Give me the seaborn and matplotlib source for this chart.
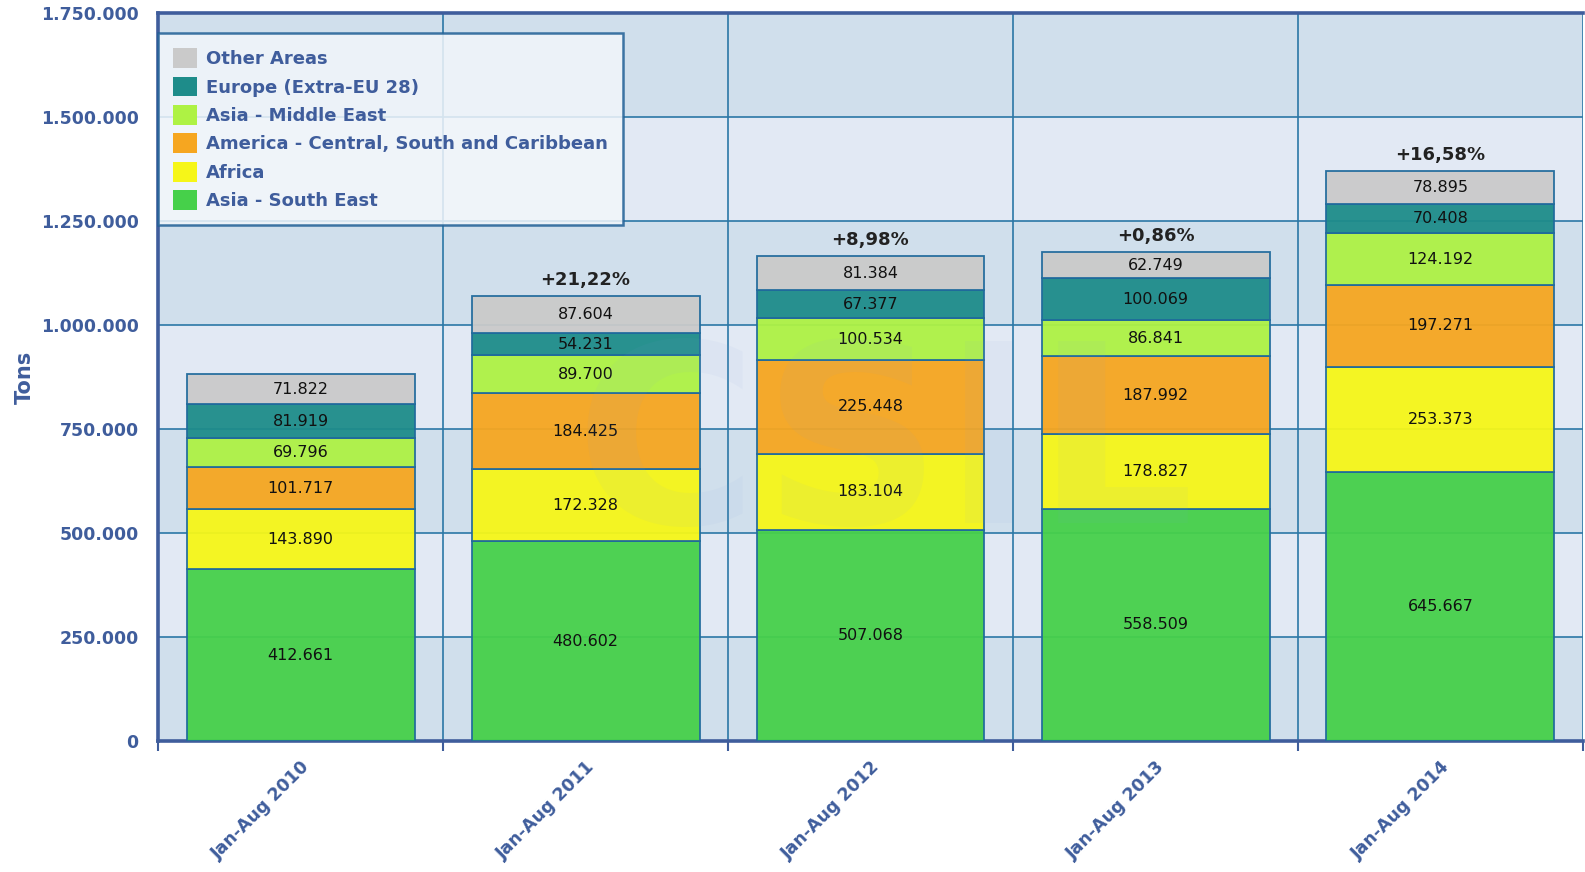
import matplotlib
matplotlib.use("Agg")
import matplotlib.pyplot as plt
import seaborn as sns
import pandas as pd
import numpy as np
from matplotlib.ticker import FixedLocator, FuncFormatter

periods = ["Jan-Aug 2010", "Jan-Aug 2011", "Jan-Aug 2012", "Jan-Aug 2013", "Jan-Aug 2014"]

asia_south_east = [412661, 480602, 507068, 558509, 645667]
africa = [143890, 172328, 183104, 178827, 253373]
america = [101717, 184425, 225448, 187992, 197271]
asia_middle_east = [69796, 89700, 100534, 86841, 124192]
europe_extra = [81919, 54231, 67377, 100069, 70408]
other_areas = [71822, 87604, 81384, 62749, 78895]

growth = ["", "+21,22%", "+8,98%", "+0,86%", "+16,58%"]

series_names = ["Asia - South East", "Africa", "America - Central, South and Caribbean",
                "Asia - Middle East", "Europe (Extra-EU 28)", "Other Areas"]
series_values = [asia_south_east, africa, america, asia_middle_east, europe_extra, other_areas]
series_colors = ["#46d04a", "#f6f618", "#f6a620", "#aef244", "#1e8c8a", "#cacaca"]

axis_blue = "#3f5d9c"
grid_blue = "#2b77a6"

sns.set_style("white")
plt.rcParams['font.family'] = ['DejaVu Sans']

fig = plt.figure(figsize=(15.85, 8.72), dpi=100)
ax = fig.add_axes([158 / 1585, 1 - 741 / 872, 1425 / 1585, 728 / 872])

# alternating background bands
ax.set_facecolor("#e2e9f4")
for lo in range(0, 1750000, 500000):
    ax.axhspan(lo, lo + 250000, color="#d0dfec", zorder=0, lw=0)

bottoms = np.zeros(len(periods))
for name, vals, col in zip(series_names, series_values, series_colors):
    df = pd.DataFrame({"period": periods, "tons": vals})
    sns.barplot(data=df, x="period", y="tons", bottom=bottoms, color=col, saturation=1,
                errorbar=None, width=0.8, edgecolor="#1f6a9c", linewidth=1.3,
                alpha=0.95, zorder=3, label=name, ax=ax)
    for i, v in enumerate(vals):
        ax.text(i, bottoms[i] + v / 2, f"{v:,}".replace(",", "."), ha="center", va="center",
                fontsize=11.5, color="#111111", zorder=5)
    bottoms = bottoms + np.array(vals)

for i, g in enumerate(growth):
    if g:
        ax.text(i, bottoms[i] + 18000, g, ha="center", va="bottom", fontsize=13,
                fontweight="bold", color="#222222", zorder=5)

# faint watermark
ax.text(2.05, 690000, "CSIL", ha="center", va="center", fontsize=180, fontweight="bold",
        color="#7f9fe0", alpha=0.06, zorder=6)

ax.set_xlim(-0.5, 4.5)
ax.set_ylim(0, 1750000)

ax.yaxis.set_major_locator(FixedLocator(np.arange(0, 1750001, 250000)))
ax.yaxis.set_major_formatter(FuncFormatter(lambda v, p: f"{int(v):,}".replace(",", ".")))
ax.xaxis.set_minor_locator(FixedLocator(np.arange(-0.5, 4.6, 1)))

ax.grid(True, axis="y", which="major", color=grid_blue, lw=1.2, zorder=1)
ax.grid(True, axis="x", which="minor", color=grid_blue, lw=1.2, zorder=1)
ax.set_axisbelow(True)

ax.tick_params(axis="y", which="major", length=0, pad=14, labelsize=12.5, labelcolor=axis_blue)
ax.tick_params(axis="x", which="major", length=0, pad=12, labelsize=12.5, labelcolor=axis_blue)
ax.tick_params(axis="x", which="minor", length=7, width=1.5, color=axis_blue, direction="out",
               bottom=True)
for lbl in ax.get_yticklabels():
    lbl.set_fontweight("bold")
for lbl in ax.get_xticklabels():
    lbl.set_fontweight("bold")
    lbl.set_rotation(45)
    lbl.set_ha("right")
    lbl.set_rotation_mode("anchor")

ax.set_xlabel("")
ax.set_ylabel("Tons", fontsize=15, fontweight="bold", color=axis_blue, labelpad=4)

for side in ["left", "bottom", "top"]:
    ax.spines[side].set_visible(True)
    ax.spines[side].set_color(axis_blue)
    ax.spines[side].set_linewidth(2.6)
ax.spines["right"].set_visible(False)

handles, labels = ax.get_legend_handles_labels()
leg = ax.legend(handles[::-1], labels[::-1], loc="upper left", bbox_to_anchor=(0, 0.9725),
                borderaxespad=0, frameon=True, fancybox=False, fontsize=13,
                handlelength=1.3, handleheight=1.3, handletextpad=0.5, labelspacing=0.47,
                borderpad=0.85, labelcolor=axis_blue)
leg.get_frame().set_facecolor("#f2f6fb")
leg.get_frame().set_alpha(0.85)
leg.get_frame().set_edgecolor("#1f5f95")
leg.get_frame().set_linewidth(1.8)
leg.set_zorder(7)
for t in leg.get_texts():
    t.set_fontweight("bold")
for h in leg.legend_handles:
    h.set_alpha(1)
    h.set_edgecolor("none")

fig.savefig("out.png", dpi=100)
